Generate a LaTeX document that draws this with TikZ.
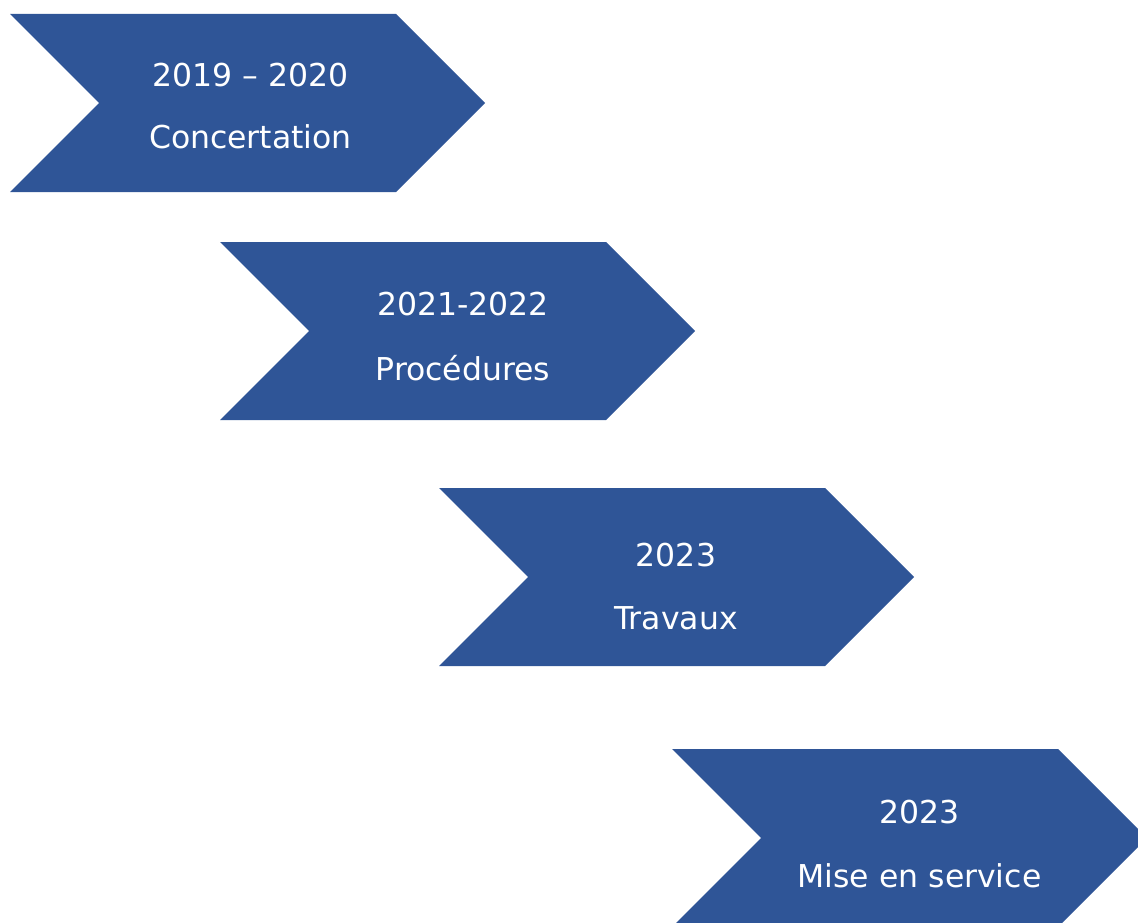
\documentclass[tikz,border=0pt]{standalone}
\usepackage{fontspec}
\setmainfont{DejaVu Sans}
\definecolor{stepblue}{HTML}{2F5597}
\begin{document}
\begin{tikzpicture}[x=1pt,y=-1pt,
  chevron/.style={fill=stepblue},
  label/.style={text=white,anchor=base,inner sep=0pt,font=\fontsize{31.5}{38}\selectfont}]
\useasboundingbox (0,0) rectangle (1138,923);
\clip (0,0) rectangle (1138,923);
% chevron: left x, top y; notch depth and tip depth 89, body width 386, height 178
\newcommand{\chev}[2]{%
  \fill[chevron] (#1,#2) -- ++(386,0) -- ++(89,89) -- ++(-89,89) -- ++(-386,0) -- ++(89,-89) -- cycle;}
\chev{10}{14}
\chev{220}{242}
\chev{439}{488}
\chev{672}{749}
% labels
\node[label] (y1) at (250.5,86.5) {2019 – 2020};
\node[label] (t1) at (250.5,149) {Concertation};
\node[label] (y2) at (463,315.5) {2021-2022};
\node[label] (t2) at (463,380) {Procédures};
\node[label] (y3) at (676,566) {2023};
\node[label] (t3) at (676,629) {Travaux};
\node[label] (y4) at (919.5,823.5) {2023};
\node[label] (t4) at (919.5,887) {Mise en service};
\end{tikzpicture}
\end{document}
